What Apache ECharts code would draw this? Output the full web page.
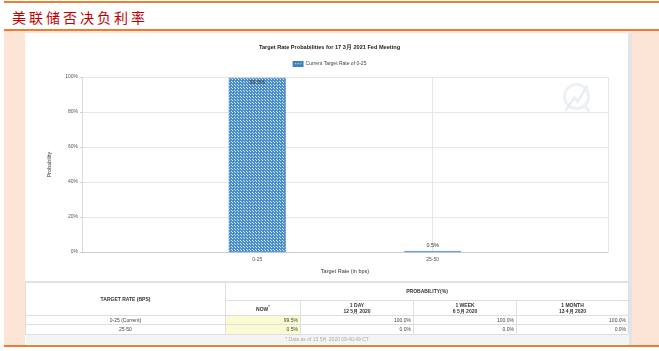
<!DOCTYPE html>
<html>
<head>
<meta charset="utf-8">
<script src="https://cdn.jsdelivr.net/npm/echarts@6/dist/echarts.min.js"></script>
<style>
    html, body { margin: 0; padding: 0; }
    body { width: 659px; height: 351px; position: relative; overflow: hidden; background: #fff; font-family: "Liberation Sans", Arial, sans-serif; }
    .line { position: absolute; left: 4px; right: 0; height: 2px; background: #ed7d31; }
    .peach { position: absolute; top: 31px; height: 314px; background: #fce4d6; }
    .page-title { position: absolute; left: 12px; top: 7px; font-family: "Noto Sans CJK SC", sans-serif; font-size: 14px; line-height: 20px; color: #c00000; letter-spacing: 3px; }
    #chart { position: absolute; left: 0; top: 0; width: 659px; height: 351px; }
    .scroll { position: absolute; left: 628px; top: 33px; width: 4px; height: 312px; background: #e4e4e4; }
    table { position: absolute; left: 25px; top: 281px; width: 603px; border-collapse: collapse; table-layout: fixed; border-top: 2px solid #e2e2e2; }
    td { border: 1px solid #dedede; padding: 0 2px; font-size: 5px; color: #444; line-height: 6px; overflow: hidden; white-space: nowrap; }
    .hd { font-weight: bold; text-align: center; color: #333; }
    .num { text-align: right; }
    .now { background: #fbfbd3; }
    .foot { background: #f4f4f4; color: #aaa; text-align: center; border: none; }
</style>
</head>
<body>
<div class="line" style="top:1px"></div>
<div class="page-title">美联储否决负利率</div>
<div class="line" style="top:29px"></div>
<div class="peach" style="left:4px;width:21px"></div>
<div class="peach" style="left:632px;width:27px"></div>
<div class="peach" style="left:4px;width:655px;height:2px"></div>
<div class="scroll"></div>
<div class="line" style="top:345px"></div>
<div id="chart"></div>
<table id="tbl"></table>
<script>
    // 图表数据
    const categories = ['0-25', '25-50']
    const probabilities = [99.5, 0.5]
    const yTicks = [0, 20, 40, 60, 80, 100]

    // 表格数据
    const rateLabels = ['0-25 (Current)', '25-50']
    const periodNames = ['NOW', '1 DAY', '1 WEEK', '1 MONTH']
    const periodDates = ['', '12 5月 2020', '6 5月 2020', '13 4月 2020']
    const nowProb = ['99.5%', '0.5%']
    const dayProb = ['100.0%', '0.0%']
    const weekProb = ['100.0%', '0.0%']
    const monthProb = ['100.0%', '0.0%']
    const footNote = '* Data as of 13 5月 2020 09:40:49 CT'

    function checker() {
        let c = document.createElement('canvas')
        c.width = 3
        c.height = 3
        let g = c.getContext('2d')
        g.fillStyle = '#4a8fcb'
        g.fillRect(0, 0, 3, 3)
        g.fillStyle = '#d3e6f5'
        g.fillRect(1, 1, 1, 1)
        g.fillRect(0, 0, 1, 1)
        return c
    }
    const pattern = { image: checker(), repeat: 'repeat' }

    const myChart = echarts.init(document.getElementById('chart'))
    const font = 'Liberation Sans'
    const seriesName = 'Current Target Rate of 0-25'

    // 两端留空的类目，使刻度落在 1/3 与 2/3 处
    const axisData = [''].concat(categories, [''])
    const barData = [null].concat(probabilities.map((v, i) => ({
        value: v,
        label: { position: i === 0 ? 'insideTop' : 'top', distance: i === 0 ? 2 : 3 }
    })), [null])

    const option = {
        animation: false,
        textStyle: { fontFamily: font },
        title: {
            text: 'Target Rate Probabilities for 17 3月 2021 Fed Meeting',
            left: 'center',
            top: 39,
            textStyle: { fontSize: 5.6, fontWeight: 'bold', color: '#222', fontFamily: font }
        },
        legend: {
            top: 56,
            left: 'center',
            itemWidth: 9,
            itemHeight: 4,
            itemGap: 3,
            icon: 'rect',
            textStyle: { fontSize: 5, color: '#444', fontFamily: font, padding: [0, 0, 0, -2] },
            data: [seriesName]
        },
        grid: { left: 82, top: 77, width: 526, height: 175, containLabel: false },
        xAxis: {
            type: 'category',
            boundaryGap: false,
            data: axisData,
            name: 'Target Rate (in bps)',
            nameLocation: 'middle',
            nameGap: 16,
            nameTextStyle: { fontSize: 5.5, color: '#333' },
            axisLine: { lineStyle: { color: '#cfcfcf', width: 1 } },
            axisTick: { show: false },
            axisLabel: { fontSize: 5, color: '#555', margin: 5 },
            splitLine: { show: true, lineStyle: { color: '#e6e6e6' } }
        },
        yAxis: {
            type: 'value',
            min: yTicks[0],
            max: yTicks[yTicks.length - 1],
            interval: yTicks[1] - yTicks[0],
            name: 'Probability',
            nameLocation: 'middle',
            nameGap: 30,
            nameTextStyle: { fontSize: 5.5, color: '#333' },
            axisLine: { show: true, lineStyle: { color: '#dadada' } },
            axisTick: { show: true, length: 2, lineStyle: { color: '#cfcfcf' } },
            axisLabel: { fontSize: 5, color: '#555', margin: 4, formatter: '{value}%' },
            splitLine: { lineStyle: { color: '#e6e6e6' } }
        },
        graphic: [{
            type: 'group',
            left: 562,
            top: 82,
            children: [
                { type: 'circle', shape: { cx: 13, cy: 13, r: 12 }, style: { fill: 'none', stroke: '#eef1f4', lineWidth: 3 } },
                { type: 'polyline', shape: { points: [[2, 27], [11, 14], [14, 18], [24, 2]] }, style: { fill: 'none', stroke: '#ebeef1', lineWidth: 2.5 } },
                { type: 'line', shape: { x1: 20, y1: 21, x2: 26, y2: 28 }, style: { stroke: '#eef1f4', lineWidth: 3 } }
            ]
        }],
        series: [{
            type: 'bar',
            name: seriesName,
            barWidth: 57,
            data: barData,
            itemStyle: { color: pattern, borderColor: '#3f82bd', borderWidth: 0.5 },
            label: {
                show: true,
                formatter: '{c}%',
                fontSize: 5.5,
                color: '#333'
            }
        }]
    }
    myChart.setOption(option)

    // 表格
    let cols = [200, 75, 113, 103, 112]
    let html = '<colgroup>' + cols.map(w => '<col style="width:' + w + 'px">').join('') + '</colgroup>'
    html += '<tr style="height:18px"><td class="hd" rowspan="2">TARGET RATE (BPS)</td>' +
        '<td class="hd" colspan="4">PROBABILITY(%)</td></tr>'
    html += '<tr style="height:15px">' + periodNames.map((p, i) =>
        '<td class="hd">' + p + (i === 0 ? '<sup style="font-size:4px">*</sup>' : '<br>' + periodDates[i]) + '</td>').join('') + '</tr>'
    rateLabels.forEach((r, i) => {
        html += '<tr style="height:9.5px"><td style="text-align:center">' + r + '</td>' +
            '<td class="num now">' + nowProb[i] + '</td>' +
            '<td class="num">' + dayProb[i] + '</td>' +
            '<td class="num">' + weekProb[i] + '</td>' +
            '<td class="num">' + monthProb[i] + '</td></tr>'
    })
    html += '<tr style="height:10px"><td class="foot" colspan="5">' + footNote + '</td></tr>'
    document.getElementById('tbl').innerHTML = html
</script>
</body>
</html>
